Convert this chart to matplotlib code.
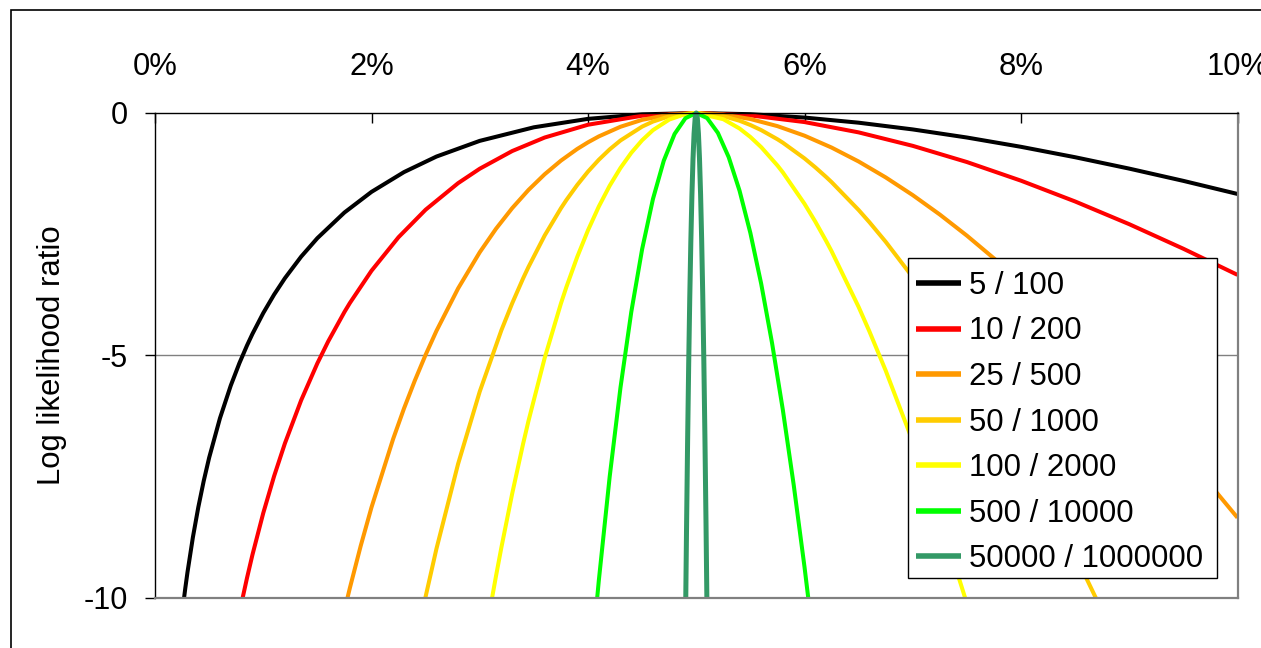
import matplotlib
matplotlib.use("Agg")
import matplotlib.pyplot as plt
from matplotlib.patches import Rectangle
from matplotlib.ticker import FuncFormatter

plt.rcParams['font.family'] = ['Liberation Sans', 'DejaVu Sans']
plt.rcParams['axes.unicode_minus'] = False

# ---- data (p in %, log likelihood ratio) ----
labels = ["5 / 100", "10 / 200", "25 / 500", "50 / 1000", "100 / 2000",
          "500 / 10000", "50000 / 1000000"]
colors = ["#000000", "#FF0000", "#FF9900", "#FFCC00", "#FFFF00", "#00FF00", "#339966"]

x_5_100 = [0.26, 0.28, 0.3, 0.35, 0.4, 0.45, 0.5, 0.6, 0.7, 0.78, 0.85, 0.9, 1.0, 1.1,
           1.2, 1.35, 1.5, 1.75, 2.0, 2.3, 2.6, 3.0, 3.5, 4.0, 4.5, 5.0, 5.5, 6.0,
           6.5, 7.0, 7.5, 8.0, 8.5, 9.0, 9.5, 10.0]
y_5_100 = [-10.157, -9.806, -9.480, -8.757, -8.137, -7.595, -7.116, -6.300, -5.625,
           -5.161, -4.798, -4.560, -4.129, -3.749, -3.410, -2.965, -2.583, -2.054,
           -1.628, -1.220, -0.899, -0.575, -0.295, -0.121, -0.028, 0.000, -0.025,
           -0.094, -0.200, -0.339, -0.506, -0.698, -0.913, -1.148, -1.401, -1.671]

x_10_200 = [0.78, 0.8, 0.85, 0.9, 1.0, 1.1, 1.2, 1.35, 1.5, 1.6, 1.75, 1.8, 2.0, 2.25,
            2.5, 2.8, 3.0, 3.3, 3.6, 4.0, 4.5, 5.0, 5.5, 6.0, 6.5, 7.0, 7.5, 8.0,
            8.5, 9.0, 9.5, 10.0]
y_10_200 = [-10.321, -10.106, -9.596, -9.120, -8.258, -7.497, -6.819, -5.930, -5.166,
            -4.714, -4.107, -3.922, -3.256, -2.563, -1.996, -1.448, -1.150, -0.785,
            -0.506, -0.242, -0.056, 0.000, -0.050, -0.187, -0.400, -0.678, -1.012,
            -1.397, -1.826, -2.295, -2.802, -3.341]

x_25_500 = [1.75, 1.8, 1.9, 2.0, 2.2, 2.3, 2.4, 2.5, 2.6, 2.8, 3.0, 3.15, 3.3, 3.45,
            3.6, 3.75, 3.9, 4.0, 4.1, 4.3, 4.5, 4.75, 5.0, 5.25, 5.5, 5.75, 6.0,
            6.25, 6.5, 6.75, 7.0, 7.25, 7.5, 7.8, 8.0, 8.2, 8.5, 8.8, 9.0, 9.5, 10.0]
y_25_500 = [-10.267, -9.805, -8.937, -8.139, -6.727, -6.100, -5.524, -4.990, -4.497,
            -3.621, -2.874, -2.390, -1.963, -1.589, -1.264, -0.983, -0.743, -0.605,
            -0.483, -0.284, -0.141, -0.034, 0.000, -0.032, -0.124, -0.271, -0.468,
            -0.713, -1.001, -1.329, -1.695, -2.096, -2.531, -3.094, -3.492, -3.909,
            -4.565, -5.258, -5.739, -7.004, -8.353]

x_50_1000 = [2.45, 2.5, 2.6, 2.8, 3.0, 3.2, 3.3, 3.4, 3.45, 3.6, 3.75, 3.8, 3.9, 4.0,
             4.1, 4.2, 4.3, 4.5, 4.6, 4.75, 5.0, 5.25, 5.4, 5.5, 5.6, 5.75, 5.8, 6.0,
             6.1, 6.2, 6.25, 6.5, 6.6, 6.75, 7.0, 7.25, 7.4, 7.5, 7.6, 7.8, 8.0, 8.2,
             8.5, 8.6, 8.8]
y_50_1000 = [-10.504, -9.981, -8.994, -7.242, -5.749, -4.483, -3.926, -3.416, -3.179,
             -2.527, -1.966, -1.797, -1.487, -1.209, -0.965, -0.751, -0.567, -0.281,
             -0.177, -0.068, 0.000, -0.064, -0.160, -0.248, -0.353, -0.542, -0.613,
             -0.937, -1.122, -1.321, -1.426, -2.002, -2.255, -2.658, -3.390, -4.193,
             -4.706, -5.062, -5.427, -6.187, -6.984, -7.817, -9.130, -9.584, -10.515]

x_100_2000 = [3.1, 3.15, 3.2, 3.3, 3.4, 3.45, 3.6, 3.75, 3.8, 3.9, 4.0, 4.1, 4.2, 4.3,
              4.4, 4.5, 4.6, 4.75, 4.9, 5.0, 5.25, 5.4, 5.5, 5.6, 5.75, 5.8, 6.0, 6.1,
              6.2, 6.25, 6.5, 6.6, 6.75, 7.0, 7.25, 7.4, 7.5, 7.6]
y_100_2000 = [-10.179, -9.559, -8.966, -7.852, -6.832, -6.357, -5.055, -3.931, -3.594,
              -2.973, -2.420, -1.930, -1.502, -1.134, -0.821, -0.562, -0.354, -0.136,
              -0.021, 0.000, -0.128, -0.320, -0.495, -0.705, -1.083, -1.226, -1.874,
              -2.243, -2.642, -2.852, -4.003, -4.510, -5.316, -6.780, -8.385, -9.412,
              -10.123, -10.854]

x_500_10000 = [4.05, 4.1, 4.2, 4.3, 4.4, 4.5, 4.6, 4.7, 4.8, 4.9, 5.0, 5.1, 5.2, 5.3,
               5.4, 5.5, 5.6, 5.7, 5.8, 5.9, 6.0, 6.1]
y_500_10000 = [-10.832, -9.649, -7.512, -5.668, -4.105, -2.811, -1.775, -0.985, -0.432,
               -0.107, 0.000, -0.104, -0.411, -0.913, -1.604, -2.477, -3.526, -4.745,
               -6.129, -7.672, -9.369, -11.216]

x_50000_1000000 = [4.89, 4.90, 4.91, 4.92, 4.93, 4.94, 4.95, 4.96, 4.97, 4.98, 4.99,
                   5.00, 5.01, 5.02, 5.03, 5.04, 5.05, 5.06, 5.07, 5.08, 5.09, 5.10, 5.11]
y_50000_1000000 = [-12.917, -10.661, -8.625, -6.806, -5.204, -3.818, -2.648, -1.693,
                   -0.951, -0.422, -0.105, 0.000, -0.105, -0.420, -0.944, -1.676,
                   -2.615, -3.761, -5.113, -6.670, -8.431, -10.395, -12.563]

xs = [x_5_100, x_10_200, x_25_500, x_50_1000, x_100_2000, x_500_10000, x_50000_1000000]
ys = [y_5_100, y_10_200, y_25_500, y_50_1000, y_100_2000, y_500_10000, y_50000_1000000]

x_ticks = [0, 2, 4, 6, 8, 10]
y_ticks = [0, -5, -10]

W, H = 1261, 648
fig = plt.figure(figsize=(W / 100, H / 100), dpi=100)
L, R, T, B = 155, 1237.5, 113, 597.5
ax = fig.add_axes([L / W, 1 - B / H, (R - L) / W, (B - T) / H])

ax.set_xlim(0, 10)
ax.set_ylim(-10, 0)

clip = Rectangle((0, -10), 10, 10.4, transform=ax.transData, visible=False)
ax.add_patch(clip)
handles = []
for x, y, c, lab in zip(xs, ys, colors, labels):
    lw = 3.6 if c == "#339966" else 2.9
    ln, = ax.plot(x, y, color=c, lw=lw, label=lab, solid_capstyle='butt',
                  solid_joinstyle='round')
    ln.set_clip_path(clip)
    handles.append(ln)

# gridline
ax.axhline(-5, color="#808080", lw=1.0, zorder=0.5)

# spines
for s in ['top', 'left']:
    ax.spines[s].set_color('black')
    ax.spines[s].set_linewidth(1.0)
for s in ['right', 'bottom']:
    ax.spines[s].set_color('#808080')
    ax.spines[s].set_linewidth(1.6)

ax.xaxis.tick_top()
ax.set_xticks(x_ticks)
ax.xaxis.set_major_formatter(FuncFormatter(lambda v, p: f"{v:g}%"))
ax.tick_params(axis='x', which='major', direction='in', length=7.5, width=1,
               labelsize=22.3, pad=22.5, colors='black')
ax.set_yticks(y_ticks)
ax.set_yticklabels([str(v) for v in y_ticks])
ax.tick_params(axis='y', which='major', direction='out', length=7.5, width=1,
               labelsize=22, pad=12)

ax.set_ylabel("Log likelihood ratio", fontsize=22.4)
ax.yaxis.set_label_coords(-0.081, 0.5)

# legend box (drawn separately) + legend entries
box = Rectangle((908 / W, 1 - 577.5 / H), 309 / W, 319.5 / H, transform=fig.transFigure,
                facecolor='white', edgecolor='black', lw=1.0, zorder=3)
fig.patches.append(box)
leg = fig.legend(handles=handles, loc='upper left', bbox_to_anchor=(908 / W, 1 - 262.5 / H),
                 fontsize=22.4, frameon=False,
                 handlelength=1.43, handletextpad=0.25, labelspacing=0.5,
                 borderpad=0.27, borderaxespad=0)
leg.set_zorder(5)
for h in leg.get_lines():
    h.set_linewidth(4.0)

# outer chart border
fig.patches.append(Rectangle((11 / W, -0.2), 2.0, 1.2 - 9.5 / H, transform=fig.transFigure,
                             fill=False, edgecolor='black', lw=1.2, clip_on=False))

fig.savefig("out.png", dpi=100)
